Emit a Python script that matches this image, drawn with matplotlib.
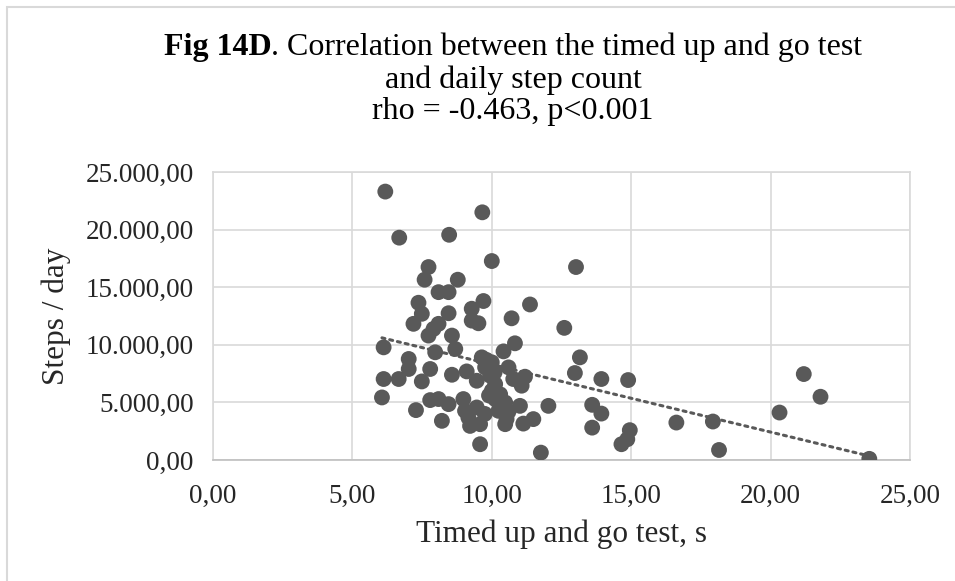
import matplotlib.pyplot as plt
import matplotlib.patches as mpatches
from matplotlib.ticker import FuncFormatter
import numpy as np

# Datos: TUG (s) y pasos / día
tug = [6.18, 9.66, 6.68, 8.47, 10.0, 7.73, 7.59, 8.78, 7.37, 8.09,
       8.45, 9.7, 11.37, 10.71, 9.28, 8.45, 7.49, 7.19, 8.09, 7.91,
       9.28, 9.52, 7.73, 8.57, 10.83, 6.12, 7.97, 8.69, 10.42, 9.64,
       10.0, 7.02, 7.02, 7.79, 8.57, 9.1, 9.76, 10.6, 11.19, 6.12,
       6.66, 7.49, 9.46, 9.94, 10.12, 10.77, 11.07, 10.0, 6.06, 7.79,
       8.09, 8.45, 8.98, 9.46, 10.12, 10.48, 11.01, 12.03, 7.28, 9.04,
       10.24, 9.16, 10.53, 11.13, 11.49, 8.21, 9.22, 9.58, 10.48, 9.58,
       11.76, 9.8, 10.1, 9.9, 10.3, 9.75, 10.6,
       13.02, 12.6, 13.16, 12.98, 13.93, 14.89, 13.6, 13.93, 13.6, 14.95,
       14.65, 14.86, 16.62, 17.93, 18.15,
       21.19, 21.79, 20.32, 23.54]
pasos = [23300, 21500, 19300, 19550, 17270, 16750, 15650, 15650, 13650, 14570,
         14570, 13800, 13500, 12300, 13130, 12740, 12690, 11820, 11820, 11380,
         12100, 11870, 10800, 10800, 10130, 9780, 9350, 9640, 9430, 8910,
         8480, 8770, 7900, 7900, 7400, 7690, 8040, 8040, 7230, 7030,
         7030, 6820, 6880, 7320, 6590, 7030, 6450, 6010, 5430, 5200,
         5290, 4850, 5290, 4560, 5290, 4990, 4700, 4700, 4330, 4270,
         4270, 3680, 3550, 3160, 3550, 3400, 2960, 3110, 3110, 1370,
         640, 8700, 7600, 5600, 5700, 4000, 4200,
         16750, 11470, 8910, 7550, 7030, 6940, 4790, 4030, 2810, 2590,
         1370, 1800, 3250, 3340, 870,
         7460, 5490, 4120, 100]

xticks = [0, 5, 10, 15, 20, 25]
yticks = [0, 5000, 10000, 15000, 20000, 25000]

gris = '#595959'
rejilla = '#d9d9d9'
fuente = 'Liberation Serif'

tug = np.array(tug)
pasos = np.array(pasos)

fig = plt.figure(figsize=(9.55, 5.81), dpi=100)

# Borde del área del gráfico
fig.patches.append(mpatches.Rectangle((7/955, -0.1), 1.2, 1.1 - 7/581,
                                      transform=fig.transFigure, fill=False,
                                      edgecolor=rejilla, linewidth=1.5))

ax = fig.add_axes([213/955, 1 - 460/581, (910 - 213)/955, (460 - 172)/581])

ax.scatter(tug, pasos, s=130, color=gris, edgecolors='none', zorder=3)

# Línea de tendencia lineal
m, b = np.polyfit(tug, pasos, 1)
xt = np.array([tug.min(), tug.max()])
ax.plot(xt, m*xt + b, color=gris, linestyle=(0, (1, 1.6)), linewidth=2.2,
        dash_capstyle='round', zorder=4)

ax.set_xlim(0, 25)
ax.set_ylim(0, 25000)
ax.set_xticks(xticks)
ax.set_yticks(yticks)

def formato(v, pos):
    s = f'{v:,.2f}'
    return s.replace(',', 'X').replace('.', ',').replace('X', '.')

ax.xaxis.set_major_formatter(FuncFormatter(formato))
ax.yaxis.set_major_formatter(FuncFormatter(formato))
ax.tick_params(length=0, labelsize=19.5, colors='#262626')
ax.tick_params(axis='x', pad=17)
ax.tick_params(axis='y', pad=14)
for lbl in ax.get_xticklabels() + ax.get_yticklabels():
    lbl.set_fontfamily(fuente)

ax.grid(True, color=rejilla, linewidth=1.2)
ax.set_axisbelow(True)
for lado in ['left', 'right', 'top']:
    ax.spines[lado].set_color(rejilla)
    ax.spines[lado].set_linewidth(1.2)
ax.spines['bottom'].set_color('#bfbfbf')
ax.spines['bottom'].set_linewidth(1.2)

ax.set_xlabel('Timed up and go test, s', fontsize=22.5, family=fuente,
              color='#262626', labelpad=8)
ax.set_ylabel('Steps / day', fontsize=22.5, family=fuente, color='#262626',
              labelpad=10)

# Título en tres líneas, "Fig 14D" en negrita
cx = 513/955
fig.canvas.draw()
r = fig.canvas.get_renderer()
t1 = fig.text(0, 0, 'Fig 14D', fontsize=23, family=fuente, fontweight='bold',
              va='center')
t2 = fig.text(0, 0, '. Correlation between the timed up and go test',
              fontsize=23, family=fuente, va='center')
w1 = t1.get_window_extent(r).width / fig.bbox.width
w2 = t2.get_window_extent(r).width / fig.bbox.width
y1 = 1 - 47/581
t1.set_position((cx - (w1 + w2)/2, y1))
t2.set_position((cx - (w1 + w2)/2 + w1, y1))
fig.text(cx, 1 - 80/581, 'and daily step count', fontsize=23, family=fuente,
         ha='center', va='center')
fig.text(cx, 1 - 112/581, 'rho = -0.463, p<0.001', fontsize=23, family=fuente,
         ha='center', va='center')

fig.savefig('out.png', dpi=100)
